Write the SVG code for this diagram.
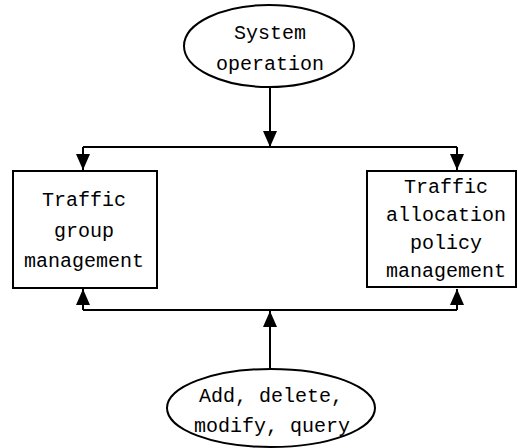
<svg xmlns="http://www.w3.org/2000/svg" width="518" height="448" viewBox="0 0 518 448">
<style>
.shape{fill:#fff;stroke:#000;stroke-width:2}
.line{fill:none;stroke:#000;stroke-width:2}
text{font-family:"Liberation Mono","DejaVu Sans Mono",monospace;font-size:20px;fill:#000;text-anchor:middle}
</style>
<defs>
<marker id="arr" markerWidth="16" markerHeight="14" refX="16" refY="7" orient="auto" markerUnits="userSpaceOnUse" viewBox="0 0 16 14">
<path d="M0,0 L16,7 L0,14 Z" fill="#000"/>
</marker>
</defs>
<rect width="518" height="448" fill="#fff"/>
<g id="connectors">
<line class="line" x1="270" y1="88" x2="270" y2="147" marker-end="url(#arr)"/>
<polyline class="line" points="83,147 457,147"/>
<line class="line" x1="83" y1="147" x2="83" y2="170" marker-end="url(#arr)"/>
<line class="line" x1="457" y1="147" x2="457" y2="170" marker-end="url(#arr)"/>
<line class="line" x1="270" y1="369" x2="270" y2="311" marker-end="url(#arr)"/>
<polyline class="line" points="83,310 457,310"/>
<line class="line" x1="83" y1="310" x2="83" y2="289" marker-end="url(#arr)"/>
<line class="line" x1="457" y1="310" x2="457" y2="289" marker-end="url(#arr)"/>
</g>
<g id="system-operation">
<ellipse class="shape" cx="269" cy="46" rx="85" ry="41"/>
<text x="270" y="39">System</text>
<text x="270" y="70">operation</text>
</g>
<g id="traffic-group-management">
<rect class="shape" x="13" y="171" width="144" height="117"/>
<text x="84" y="206">Traffic</text>
<text x="84" y="237">group</text>
<text x="84" y="267">management</text>
</g>
<g id="traffic-allocation-policy-management">
<rect class="shape" x="367" y="171" width="149" height="116"/>
<text x="446" y="193">Traffic</text>
<text x="446" y="221">allocation</text>
<text x="446" y="249">policy</text>
<text x="446" y="277">management</text>
</g>
<g id="add-delete-modify-query">
<ellipse class="shape" cx="271" cy="408" rx="104" ry="39"/>
<text x="271" y="402">Add, delete,</text>
<text x="272" y="432">modify, query</text>
</g>
</svg>
